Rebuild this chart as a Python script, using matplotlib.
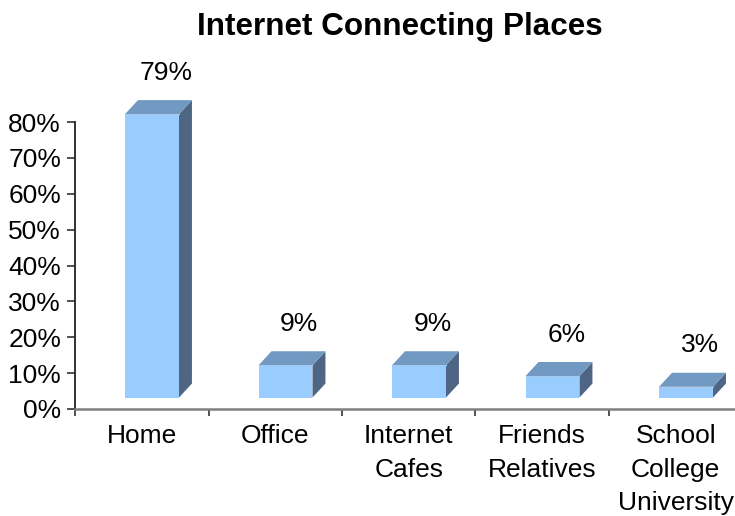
import matplotlib
matplotlib.use('Agg')
import matplotlib.pyplot as plt
from matplotlib.patches import Polygon

plt.rcParams['font.family'] = ['Liberation Sans', 'DejaVu Sans']

# Share of users by place they connect from
places = ['Home', 'Office', 'Internet\nCafes', 'Friends\nRelatives', 'School\nCollege\nUniversity']
share = [79, 9, 9, 6, 3]
y_ticks = [0, 10, 20, 30, 40, 50, 60, 70, 80]

front_col = '#99CCFF'
top_col = '#7199C1'
side_col = '#4E6684'

fig = plt.figure(figsize=(7.35, 5.16), dpi=100)
ax = fig.add_axes([75 / 735, 107 / 516, 667.5 / 735, 287 / 516])
ax.set_xlim(-0.5, len(places) - 0.5)
ax.set_ylim(0, 80)

# fake 3D column: front face lifted off the floor, with a top and a side
lift = 3.2      # floor offset of the front face (data units)
dx = 0.097      # depth shift in x (category units)
dy = 3.9        # depth shift in y (data units)
left, right = -0.125, 0.279

for i, v in enumerate(share):
    x0, x1 = i + left, i + right
    y0, y1 = lift, lift + v
    side = Polygon([(x1, y0), (x1 + dx, y0 + dy), (x1 + dx, y1 + dy), (x1, y1)],
                   closed=True, facecolor=side_col, edgecolor='none', clip_on=False)
    top = Polygon([(x0, y1), (x1, y1), (x1 + dx, y1 + dy), (x0 + dx, y1 + dy)],
                  closed=True, facecolor=top_col, edgecolor='none', clip_on=False)
    front = Polygon([(x0, y0), (x1, y0), (x1, y1), (x0, y1)],
                    closed=True, facecolor=front_col, edgecolor='none', clip_on=False)
    for p in (side, top, front):
        ax.add_patch(p)
    ax.plot([x0, x1], [y1, y1], color='#A8C8E8', lw=0.8, clip_on=False)
    ax.text(i + 0.18, y1 + dy + 4.3, f'{v}%', ha='center', va='bottom',
            fontsize=19, color='black', clip_on=False)

ax.set_yticks(y_ticks)
ax.set_yticklabels([f'{t}%' for t in y_ticks], fontsize=19)
ax.set_xticks(range(len(places)))
ax.set_xticklabels(places, fontsize=19, linespacing=1.5)
ax.set_xticks([k - 0.5 for k in range(len(places) + 1)], minor=True)
ax.tick_params(axis='x', which='major', length=0, pad=11)
ax.tick_params(axis='x', which='minor', length=5, width=1.2, direction='out', color='#333333')
ax.tick_params(axis='y', length=6, width=1.2, direction='out', pad=4, color='#333333')

for s in ('top', 'right'):
    ax.spines[s].set_visible(False)
ax.spines['left'].set_color('#222222')
ax.spines['left'].set_linewidth(1.3)
ax.spines['bottom'].set_color('#7F7F7F')
ax.spines['bottom'].set_linewidth(1.8)

fig.text(400 / 735, 1 - 35 / 516, 'Internet Connecting Places', ha='center',
         va='baseline', fontsize=22.6, fontweight='bold')

fig.savefig('out.png', dpi=100)
